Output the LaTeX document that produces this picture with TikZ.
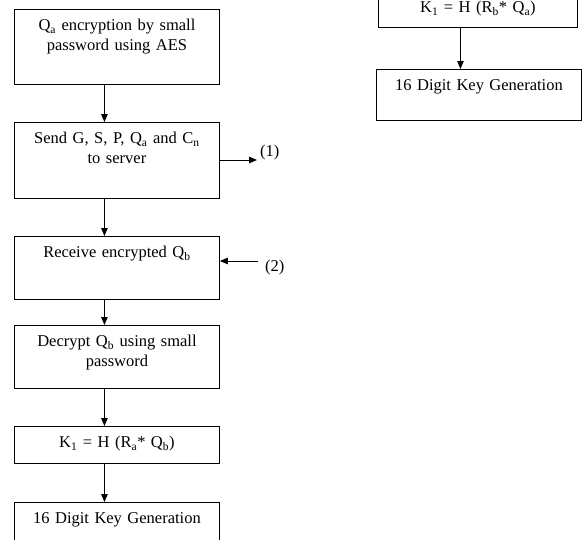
\documentclass[tikz,border=0pt]{standalone}
\usepackage{fontspec}
\setmainfont{Liberation Serif}
\usetikzlibrary{arrows.meta}
\newcommand{\sbs}[1]{\textsubscript{#1}}
\begin{document}
\begin{tikzpicture}[x=1pt,y=-1pt,
  flowbox/.style={draw,line width=0.9pt,inner sep=0pt,align=center,anchor=north west,
    font=\fontsize{16.5}{19.5}\selectfont,text height=21.5pt},
  arr/.style={line width=0.9pt,-{Triangle[length=8pt,width=6.5pt]}},
  lab/.style={font=\fontsize{16.5}{19.5}\selectfont,inner sep=0pt}]
\useasboundingbox (0,0) rectangle (584,539);
% left column
\node[flowbox,text width=205pt,text depth=53.5pt] (b1) at (14,9) {Q\sbs{a} encryption by small\\password using AES};
\node[flowbox,text width=205pt,text depth=54.5pt] (b2) at (14,122) {Send G, S, P, Q\sbs{a} and C\sbs{n}\\to server};
\node[flowbox,text width=205pt,text depth=41.5pt] (b3) at (14,236) {Receive encrypted Q\sbs{b}};
\node[flowbox,text width=205pt,text depth=41.5pt] (b4) at (14,325) {Decrypt Q\sbs{b} using small\\password};
\node[flowbox,text width=205pt,text depth=15.5pt] (b5) at (14,426) {K\sbs{1} = H (R\sbs{a}* Q\sbs{b})};
\node[flowbox,text width=205pt,text depth=41.5pt] (b6) at (14,502) {16 Digit Key Generation};
% right column
\node[flowbox,text width=199pt,text height=52pt,text depth=15pt] (r1) at (378,-40) {K\sbs{1} = H (R\sbs{b}* Q\sbs{a})};
\node[flowbox,text width=205pt,text depth=29.5pt] (r2) at (376,69) {16 Digit Key Generation};
% arrows
\draw[arr] ([xshift=-12.5pt]b1.south) -- ([xshift=-12.5pt]b1.south |- b2.north);
\draw[arr] ([xshift=-12.5pt]b2.south) -- ([xshift=-12.5pt]b2.south |- b3.north);
\draw[arr] ([xshift=-12.5pt]b3.south) -- ([xshift=-12.5pt]b3.south |- b4.north);
\draw[arr] ([xshift=-12.5pt]b4.south) -- ([xshift=-12.5pt]b4.south |- b5.north);
\draw[arr] ([xshift=-12.5pt]b5.south) -- ([xshift=-12.5pt]b5.south |- b6.north);
\draw[arr] ([xshift=-17.5pt]r1.south) -- ([xshift=-17.5pt]r1.south |- r2.north);
% side connectors
\coordinate (o1) at (257,160);
\coordinate (i2) at (258,261);
\draw[arr] (b2.east |- o1) -- (o1);
\draw[arr] (i2) -- (b3.east |- i2);
\node[lab,anchor=west] (l1) at (260,153) {(1)};
\node[lab,anchor=west] (l2) at (265,268) {(2)};
\end{tikzpicture}
\end{document}
